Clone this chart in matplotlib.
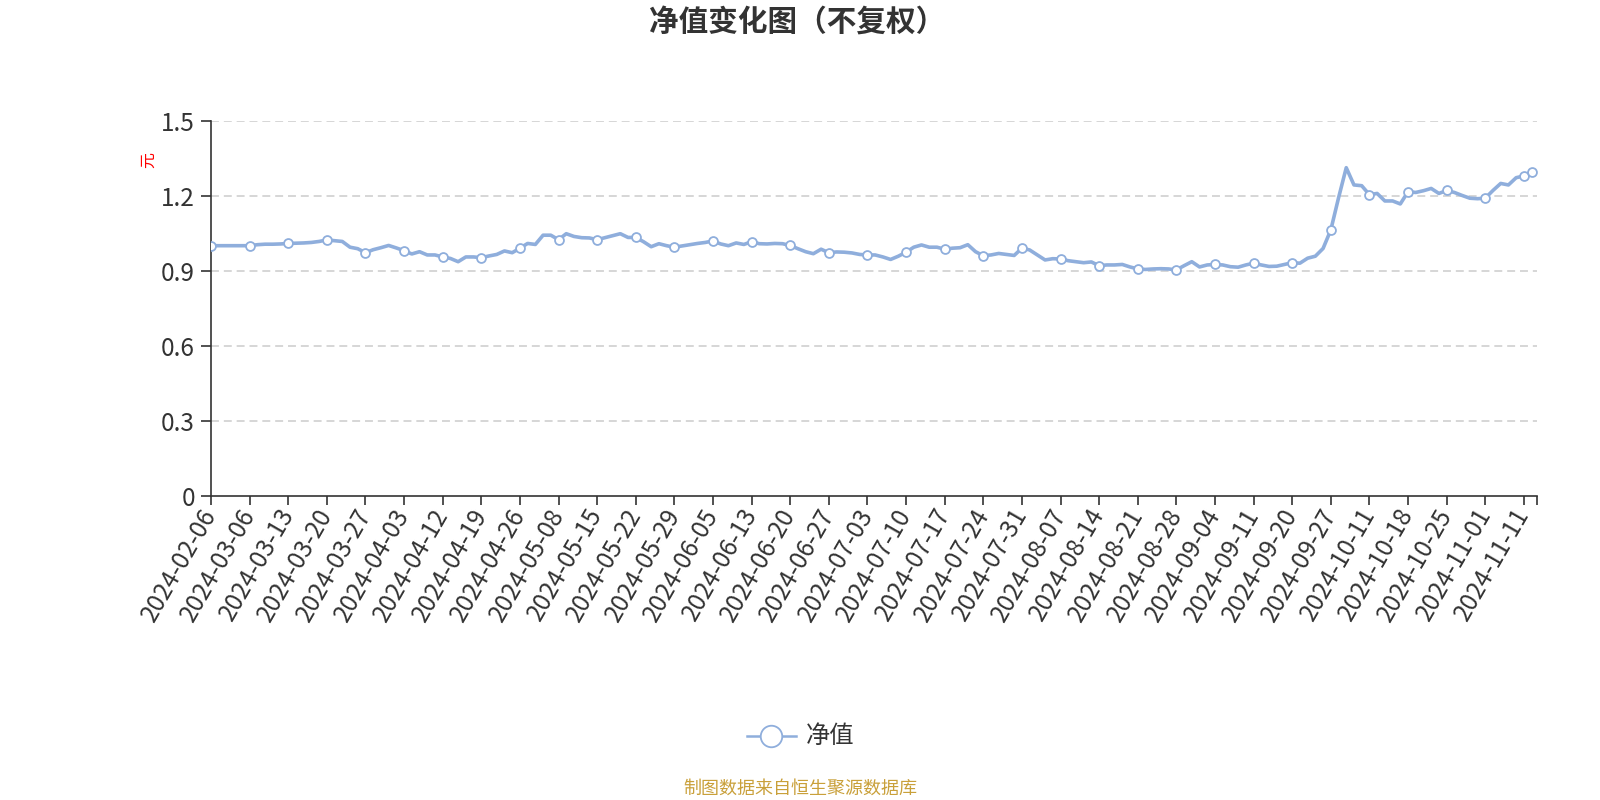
import matplotlib
matplotlib.use("Agg")
import matplotlib.pyplot as plt
from matplotlib.lines import Line2D

plt.rcParams['font.family'] = ['Noto Sans CJK SC', 'DejaVu Sans']

# ---- data ----
tick_labels = [
    "2024-02-06", "2024-03-06", "2024-03-13", "2024-03-20", "2024-03-27",
    "2024-04-03", "2024-04-12", "2024-04-19", "2024-04-26", "2024-05-08",
    "2024-05-15", "2024-05-22", "2024-05-29", "2024-06-05", "2024-06-13",
    "2024-06-20", "2024-06-27", "2024-07-03", "2024-07-10", "2024-07-17",
    "2024-07-24", "2024-07-31", "2024-08-07", "2024-08-14", "2024-08-21",
    "2024-08-28", "2024-09-04", "2024-09-11", "2024-09-20", "2024-09-27",
    "2024-10-11", "2024-10-18", "2024-10-25", "2024-11-01", "2024-11-11",
]
label_step = 5

nav = [
    1.000, 1.000, 1.000, 1.000, 1.000, 1.000, 1.004, 1.006, 1.006, 1.007,
    1.009, 1.010, 1.011, 1.013, 1.017, 1.023, 1.020, 1.017, 0.994, 0.988,
    0.972, 0.984, 0.992, 1.001, 0.991, 0.980, 0.967, 0.976, 0.963, 0.963,
    0.955, 0.949, 0.936, 0.955, 0.955, 0.952, 0.959, 0.965, 0.979, 0.972,
    0.990, 1.009, 1.005, 1.042, 1.042, 1.024, 1.048, 1.037, 1.032, 1.031,
    1.024, 1.032, 1.040, 1.048, 1.033, 1.033, 1.016, 0.996, 1.008, 1.000,
    0.994, 0.999, 1.004, 1.009, 1.013, 1.019, 1.007, 1.000, 1.011, 1.005,
    1.016, 1.008, 1.007, 1.009, 1.008, 1.001, 0.988, 0.976, 0.968, 0.986,
    0.972, 0.975, 0.974, 0.971, 0.965, 0.963, 0.963, 0.955, 0.945, 0.958,
    0.974, 0.994, 1.003, 0.994, 0.994, 0.986, 0.990, 0.992, 1.004, 0.976,
    0.960, 0.963, 0.969, 0.965, 0.961, 0.990, 0.983, 0.963, 0.943, 0.948,
    0.947, 0.940, 0.936, 0.932, 0.935, 0.920, 0.923, 0.923, 0.925, 0.915,
    0.907, 0.905, 0.907, 0.908, 0.907, 0.903, 0.920, 0.936, 0.915, 0.923,
    0.925, 0.923, 0.916, 0.914, 0.923, 0.930, 0.923, 0.917, 0.918, 0.925,
    0.932, 0.930, 0.950, 0.958, 0.989, 1.063, 1.191, 1.312, 1.243, 1.240,
    1.204, 1.209, 1.179, 1.179, 1.167, 1.216, 1.213, 1.220, 1.229, 1.209,
    1.221, 1.213, 1.201, 1.190, 1.188, 1.190, 1.221, 1.249, 1.243, 1.272,
    1.279, 1.296,
]
y_ticks = [0, 0.3, 0.6, 0.9, 1.2, 1.5]
y_tick_labels = ["0", "0.3", "0.6", "0.9", "1.2", "1.5"]

title = "净值变化图（不复权）"
series_name = "净值"
unit = "元"
footer = "制图数据来自恒生聚源数据库"

# ---- style ----
W, H = 1600, 800
line_color = "#8FAEDC"
text_color = "#333333"

fig = plt.figure(figsize=(W / 100, H / 100), dpi=100)
fig.patch.set_facecolor("white")

x0, x1 = 211, 1537
yb, yt = 495.7, 120.7
ax = fig.add_axes([x0 / W, 1 - yb / H, (x1 - x0) / W, (yb - yt) / H])

n = len(nav)
xs = list(range(n))
mark_idx = list(range(0, n, label_step))
if mark_idx[-1] != n - 1:
    mark_idx.append(n - 1)

ax.plot(xs, nav, color=line_color, lw=2.6, solid_joinstyle="round",
        marker="o", markevery=mark_idx, markersize=6.4,
        markerfacecolor="white", markeredgecolor=line_color,
        markeredgewidth=1.3, zorder=3)

ax.set_xlim(0, n - 1 + 0.7)
ax.set_ylim(0, 1.5)

# grid
for yv in y_ticks[1:]:
    ax.axhline(yv, color="#cccccc", lw=1.1, ls=(0, (5.2, 3.2)), zorder=1)

# spines
for s in ("top", "right"):
    ax.spines[s].set_visible(False)
for s in ("left", "bottom"):
    ax.spines[s].set_color(text_color)
    ax.spines[s].set_linewidth(1.2)

ax.set_yticks(y_ticks)
ax.set_yticklabels(y_tick_labels)
ax.tick_params(axis="y", direction="out", length=7.5, width=1.2,
               color=text_color, labelsize=17.5, labelcolor=text_color, pad=4)

tick_pos = [i * label_step for i in range(len(tick_labels))]
ax.set_xticks(tick_pos + [n - 1 + 0.7])
ax.set_xticklabels(tick_labels + [""])
ax.tick_params(axis="x", direction="out", length=6.5, width=1.2,
               color=text_color, labelsize=17.5, labelcolor=text_color, pad=4)
for lab in ax.get_xticklabels():
    lab.set_rotation(60)
    lab.set_ha("right")
    lab.set_va("center")
    lab.set_rotation_mode("anchor")

# title
fig.text(797 / W, 1 - 23 / H, title, ha="center", va="center",
         fontsize=21.3, fontweight="bold", color=text_color)

# unit label
fig.text(149 / W, 1 - 160 / H, unit, ha="center", va="center",
         rotation=90, fontsize=11.5, color="#ff0000")

# legend
ly = 1 - 736 / H
fig.add_artist(Line2D([747 / W, 796 / W], [ly, ly], transform=fig.transFigure,
                      color=line_color, lw=1.8))
fig.add_artist(Line2D([771 / W], [ly], transform=fig.transFigure,
                      marker="o", markersize=15.5, markerfacecolor="white",
                      markeredgecolor=line_color, markeredgewidth=1.3,
                      color=line_color))
fig.text(806 / W, ly, series_name, ha="left", va="center",
         fontsize=17.5, color=text_color)

# footer
fig.text(800 / W, 1 - 789 / H, footer, ha="center", va="center",
         fontsize=13, color="#C9A03A")

fig.savefig("out.png", dpi=100, facecolor="white")
